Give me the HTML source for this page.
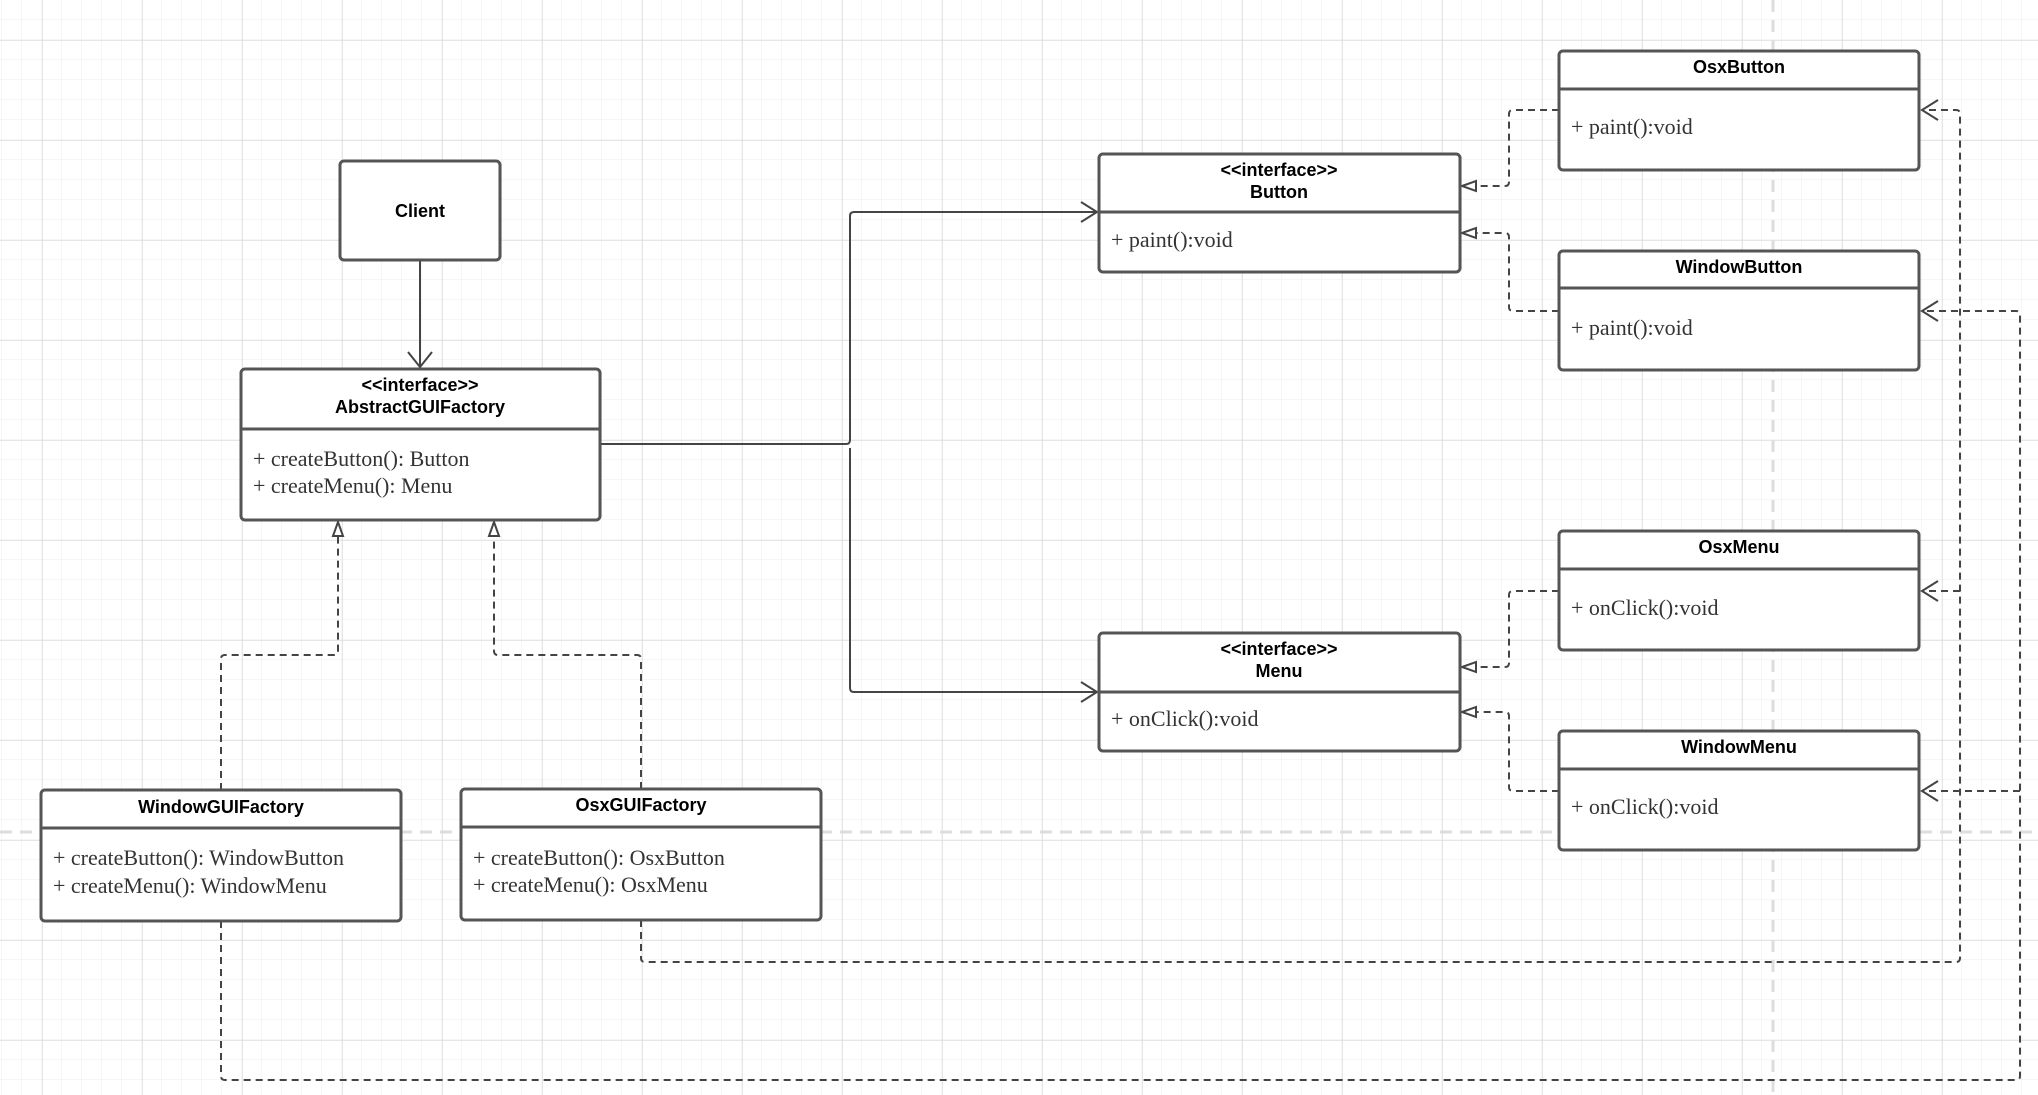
<!DOCTYPE html>
<html><head><meta charset="utf-8"><style>
html,body{margin:0;padding:0;background:#fff}
svg{display:block}
.b{fill:#fff;stroke:#555;stroke-width:3}
.d{stroke:#555;stroke-width:3}
.h{font-family:"Liberation Sans",sans-serif;font-weight:bold;font-size:18px;fill:#000;text-anchor:middle}
.t{font-family:"Liberation Serif",serif;font-size:22px;fill:#333}
.c{fill:none;stroke:#444;stroke-width:2}
.dc{fill:none;stroke:#444;stroke-width:2;stroke-dasharray:7,5}
</style></head><body>
<svg width="2038" height="1095" viewBox="0 0 2038 1095" xmlns="http://www.w3.org/2000/svg">
<defs>
<pattern id="mn" width="20" height="20" patternUnits="userSpaceOnUse" x="2" y="0">
<path d="M20 0V20M0 20H20" fill="none" stroke="#ececec" stroke-width="1"/></pattern>
<pattern id="mj" width="100" height="100" patternUnits="userSpaceOnUse" x="42" y="40">
<path d="M0 0V100M0 0H100" fill="none" stroke="#d8d8d8" stroke-width="1.3"/></pattern>
</defs>
<rect width="2038" height="1095" fill="url(#mn)"/>
<rect width="2038" height="1095" fill="url(#mj)"/>
<line x1="0" y1="832" x2="2038" y2="832" stroke="#ddd" stroke-width="3" stroke-dasharray="12,8"/>
<line x1="1773" y1="0" x2="1773" y2="1095" stroke="#ddd" stroke-width="3" stroke-dasharray="12,8"/>

<!-- connectors -->
<path class="c" d="M420 260V367M408 352L420 367L432 352"/>
<path class="c" d="M600 444H846Q850 444 850 440V216Q850 212 854 212H1097M1081 202L1097 212L1081 222"/>
<path class="c" d="M850 448V688Q850 692 854 692H1097M1081 682L1097 692L1081 702"/>

<path class="dc" d="M221 790V659Q221 655 225 655H334Q338 655 338 651V526"/>
<path d="M338 522L333 536H343Z" fill="#fff" stroke="#444" stroke-width="2"/>
<path class="dc" d="M641 789V659Q641 655 637 655H498Q494 655 494 651V526"/>
<path d="M494 522L489 536H499Z" fill="#fff" stroke="#444" stroke-width="2"/>

<path class="dc" d="M1559 110H1513Q1509 110 1509 114V182Q1509 186 1505 186H1466"/>
<path d="M1462 186L1476 181V191Z" fill="#fff" stroke="#444" stroke-width="2"/>
<path class="dc" d="M1559 311H1513Q1509 311 1509 307V237Q1509 233 1505 233H1466"/>
<path d="M1462 233L1476 228V238Z" fill="#fff" stroke="#444" stroke-width="2"/>
<path class="dc" d="M1559 591H1513Q1509 591 1509 595V663Q1509 667 1505 667H1466"/>
<path d="M1462 667L1476 662V672Z" fill="#fff" stroke="#444" stroke-width="2"/>
<path class="dc" d="M1559 791H1513Q1509 791 1509 787V716Q1509 712 1505 712H1466"/>
<path d="M1462 712L1476 707V717Z" fill="#fff" stroke="#444" stroke-width="2"/>

<path class="dc" d="M641 920V958Q641 962 645 962H1956Q1960 962 1960 958V114Q1960 110 1956 110H1922"/>
<path class="dc" d="M1960 591H1922"/>
<path class="c" d="M1938 100L1922 110L1938 120M1938 581L1922 591L1938 601"/>
<path class="dc" d="M221 921V1076Q221 1080 225 1080H2016Q2020 1080 2020 1076V315Q2020 311 2016 311H1922"/>
<path class="dc" d="M2020 791H1922"/>
<path class="c" d="M1938 301L1922 311L1938 321M1938 781L1922 791L1938 801"/>

<!-- boxes -->
<rect class="b" x="340" y="161" width="160" height="99" rx="4"/>
<text class="h" x="420" y="217">Client</text>

<rect class="b" x="241" y="369" width="359" height="151" rx="4"/>
<line class="d" x1="241" y1="429" x2="600" y2="429"/>
<text class="h" x="420" y="391">&lt;&lt;interface&gt;&gt;</text>
<text class="h" x="420" y="413">AbstractGUIFactory</text>
<text class="t" x="253" y="466">+ createButton(): Button</text>
<text class="t" x="253" y="493">+ createMenu(): Menu</text>

<rect class="b" x="41" y="790" width="360" height="131" rx="4"/>
<line class="d" x1="41" y1="828" x2="401" y2="828"/>
<text class="h" x="221" y="813">WindowGUIFactory</text>
<text class="t" x="53" y="865">+ createButton(): WindowButton</text>
<text class="t" x="53" y="893">+ createMenu(): WindowMenu</text>

<rect class="b" x="461" y="789" width="360" height="131" rx="4"/>
<line class="d" x1="461" y1="827" x2="821" y2="827"/>
<text class="h" x="641" y="811">OsxGUIFactory</text>
<text class="t" x="473" y="865">+ createButton(): OsxButton</text>
<text class="t" x="473" y="892">+ createMenu(): OsxMenu</text>

<rect class="b" x="1099" y="154" width="361" height="118" rx="4"/>
<line class="d" x1="1099" y1="212" x2="1460" y2="212"/>
<text class="h" x="1279" y="176">&lt;&lt;interface&gt;&gt;</text>
<text class="h" x="1279" y="198">Button</text>
<text class="t" x="1111" y="247">+ paint():void</text>

<rect class="b" x="1099" y="633" width="361" height="118" rx="4"/>
<line class="d" x1="1099" y1="692" x2="1460" y2="692"/>
<text class="h" x="1279" y="655">&lt;&lt;interface&gt;&gt;</text>
<text class="h" x="1279" y="677">Menu</text>
<text class="t" x="1111" y="726">+ onClick():void</text>

<rect class="b" x="1559" y="51" width="360" height="119" rx="4"/>
<line class="d" x1="1559" y1="89" x2="1919" y2="89"/>
<text class="h" x="1739" y="73">OsxButton</text>
<text class="t" x="1571" y="134">+ paint():void</text>

<rect class="b" x="1559" y="251" width="360" height="119" rx="4"/>
<line class="d" x1="1559" y1="288" x2="1919" y2="288"/>
<text class="h" x="1739" y="273">WindowButton</text>
<text class="t" x="1571" y="335">+ paint():void</text>

<rect class="b" x="1559" y="531" width="360" height="119" rx="4"/>
<line class="d" x1="1559" y1="569" x2="1919" y2="569"/>
<text class="h" x="1739" y="553">OsxMenu</text>
<text class="t" x="1571" y="615">+ onClick():void</text>

<rect class="b" x="1559" y="731" width="360" height="119" rx="4"/>
<line class="d" x1="1559" y1="769" x2="1919" y2="769"/>
<text class="h" x="1739" y="753">WindowMenu</text>
<text class="t" x="1571" y="814">+ onClick():void</text>
</svg>
</body></html>
